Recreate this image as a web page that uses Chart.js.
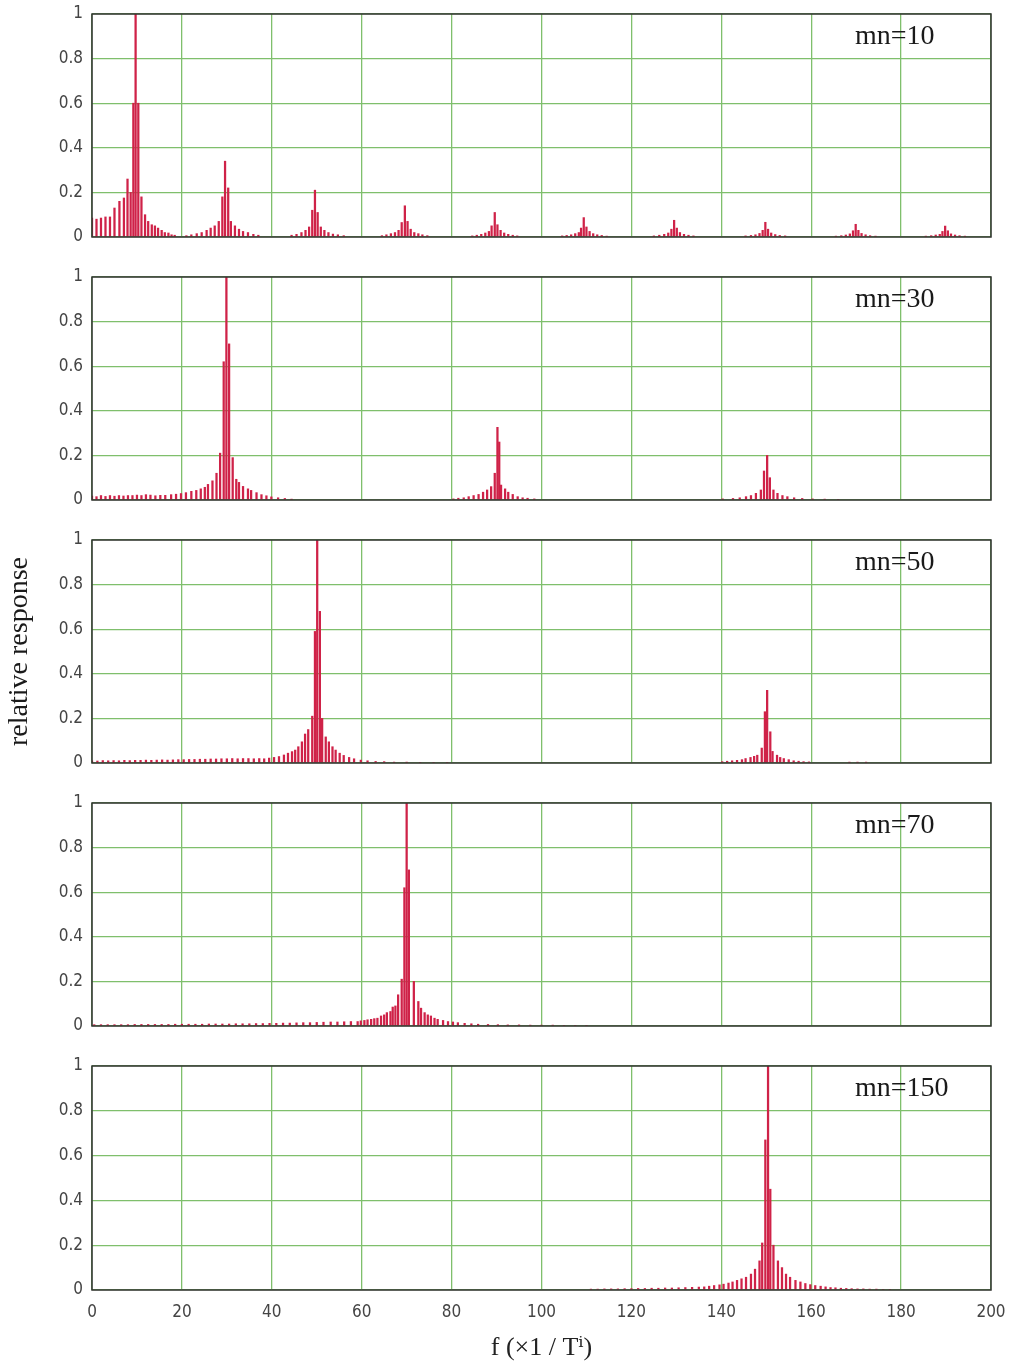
<!DOCTYPE html>
<html>
<head>
<meta charset="utf-8">
<title>relative response</title>
<script src="https://cdn.jsdelivr.net/npm/chart.js@4.4.1/dist/chart.umd.min.js"></script>
<style>
  html, body { margin: 0; padding: 0; background: #fff; }
  #wrap { position: relative; width: 1012px; height: 1365px; }
  #wrap canvas { position: absolute; left: 0; }
</style>
</head>
<body>
<div id="wrap">
  <canvas id="p0" width="1012" height="263" style="top:0px"></canvas>
  <canvas id="p1" width="1012" height="263" style="top:263px"></canvas>
  <canvas id="p2" width="1012" height="263" style="top:526px"></canvas>
  <canvas id="p3" width="1012" height="263" style="top:789px"></canvas>
  <canvas id="p4" width="1012" height="313" style="top:1052px"></canvas>
</div>
<script>
const freqTicks = [0, 20, 40, 60, 80, 100, 120, 140, 160, 180, 200];
const respTicks = [0, 0.2, 0.4, 0.6, 0.8, 1];
const panelLabels = ["mn=10", "mn=30", "mn=50", "mn=70", "mn=150"];

// spectral lines as [frequency, relative response]
const mn10Spikes = [
  [0, 0.085], [1, 0.08], [2, 0.085], [3, 0.09], [4, 0.09], [5, 0.13], [6.1, 0.16], [7.1, 0.175],
  [7.9, 0.26], [8.6, 0.2], [9.2, 0.6], [9.7, 1.0], [10.3, 0.6], [11.0, 0.18], [11.8, 0.1],
  [12.5, 0.07], [13.3, 0.055], [14.0, 0.05], [14.7, 0.04], [15.5, 0.03], [16.2, 0.02],
  [17.0, 0.018], [17.7, 0.01], [18.4, 0.008],
  [21.0, 0.006], [22.1, 0.01], [23.3, 0.015], [24.4, 0.02], [25.5, 0.03], [26.4, 0.04],
  [27.3, 0.05], [28.2, 0.07], [29.0, 0.18], [29.6, 0.34], [30.3, 0.22], [30.9, 0.07],
  [31.8, 0.05], [32.7, 0.035], [33.6, 0.025], [34.7, 0.02], [35.9, 0.012], [37.0, 0.008],
  [44.4, 0.008], [45.5, 0.012], [46.6, 0.02], [47.5, 0.03], [48.3, 0.045], [49.0, 0.12],
  [49.6, 0.21], [50.2, 0.11], [50.9, 0.045], [51.7, 0.03], [52.6, 0.02], [53.6, 0.013],
  [54.7, 0.01], [56.0, 0.006],
  [64.5, 0.006], [65.5, 0.01], [66.5, 0.015], [67.4, 0.02], [68.2, 0.03], [68.9, 0.065],
  [69.6, 0.14], [70.2, 0.07], [70.9, 0.035], [71.7, 0.02], [72.6, 0.015], [73.5, 0.01], [74.6, 0.006],
  [84.6, 0.005], [85.6, 0.008], [86.6, 0.012], [87.5, 0.018], [88.3, 0.025], [88.9, 0.05],
  [89.6, 0.11], [90.2, 0.055], [90.9, 0.03], [91.7, 0.018], [92.6, 0.012], [93.6, 0.008], [94.6, 0.005],
  [104.6, 0.005], [105.6, 0.007], [106.6, 0.01], [107.5, 0.015], [108.3, 0.02], [108.8, 0.04],
  [109.4, 0.087], [110.0, 0.045], [110.7, 0.025], [111.5, 0.015], [112.4, 0.01], [113.4, 0.007], [114.5, 0.004],
  [125.0, 0.005], [126.2, 0.008], [127.3, 0.012], [128.2, 0.018], [128.9, 0.035], [129.5, 0.075],
  [130.1, 0.04], [130.8, 0.02], [131.7, 0.012], [132.7, 0.008], [133.8, 0.005],
  [145.4, 0.005], [146.6, 0.007], [147.6, 0.01], [148.5, 0.016], [149.2, 0.03], [149.8, 0.066],
  [150.4, 0.035], [151.1, 0.018], [152.0, 0.011], [153.0, 0.007], [154.2, 0.005],
  [165.5, 0.004], [166.7, 0.006], [167.7, 0.009], [168.6, 0.014], [169.3, 0.028], [169.9, 0.057],
  [170.5, 0.03], [171.2, 0.016], [172.1, 0.01], [173.1, 0.006], [174.3, 0.004],
  [185.5, 0.004], [186.7, 0.006], [187.7, 0.009], [188.6, 0.012], [189.2, 0.025], [189.8, 0.049],
  [190.4, 0.028], [191.1, 0.014], [192.0, 0.009], [193.0, 0.006], [194.2, 0.004]
];

const mn30Spikes = [
  [0, 0.018], [1, 0.015], [2, 0.02], [3, 0.016], [4, 0.02], [5, 0.017], [6, 0.02], [7, 0.018],
  [8, 0.02], [9, 0.02], [10, 0.022], [11, 0.02], [12, 0.024], [13, 0.022],
  [14.1, 0.019], [15.2, 0.021], [16.3, 0.021], [17.6, 0.024], [18.7, 0.026], [19.8, 0.029],
  [20.9, 0.033], [22.1, 0.039], [23.2, 0.043], [24.2, 0.05], [25.1, 0.057], [25.8, 0.07],
  [26.8, 0.086], [27.7, 0.12], [28.5, 0.21], [29.3, 0.62], [29.9, 1.0], [30.5, 0.7],
  [31.3, 0.19], [32.1, 0.093], [32.7, 0.079], [33.6, 0.061], [34.7, 0.05], [35.4, 0.043],
  [36.6, 0.033], [37.7, 0.024], [38.8, 0.019], [39.9, 0.014], [41.4, 0.01], [42.9, 0.007], [44.4, 0.004],
  [80.4, 0.005], [81.5, 0.008], [82.7, 0.01], [83.8, 0.015], [84.9, 0.02], [86.0, 0.025],
  [87.0, 0.035], [87.9, 0.045], [88.8, 0.06], [89.6, 0.12], [90.2, 0.326], [90.6, 0.26],
  [91.0, 0.067], [91.9, 0.05], [92.6, 0.035], [93.6, 0.025], [94.7, 0.015], [95.8, 0.01],
  [96.9, 0.008], [98.4, 0.005],
  [140.3, 0.005], [142.6, 0.007], [144.1, 0.01], [145.5, 0.015], [146.6, 0.02], [147.7, 0.03],
  [148.8, 0.045], [149.5, 0.13], [150.2, 0.2], [150.8, 0.1], [151.6, 0.045], [152.5, 0.03],
  [153.6, 0.02], [154.7, 0.015], [156.2, 0.01], [158.0, 0.007], [160.3, 0.005], [163.0, 0.004], [166.0, 0.003]
];

const mn50Spikes = [
  [0, 0.01], [1.2, 0.009], [2.4, 0.011], [3.6, 0.01], [4.8, 0.011], [6, 0.01], [7.2, 0.012],
  [8.4, 0.011], [9.6, 0.012], [10.8, 0.012], [12, 0.013], [13.2, 0.012], [14.4, 0.013],
  [15.6, 0.014], [16.8, 0.013], [18, 0.014], [19.2, 0.015], [20.4, 0.015], [21.6, 0.016],
  [22.8, 0.016], [24, 0.017], [25.2, 0.017], [26.4, 0.018], [27.6, 0.018], [28.8, 0.019],
  [30, 0.019], [31.2, 0.02], [32.4, 0.019], [33.6, 0.02], [34.8, 0.02], [36, 0.019], [37.2, 0.02],
  [38.3, 0.019], [39.4, 0.022], [40.5, 0.025], [41.6, 0.029], [42.7, 0.036], [43.6, 0.044],
  [44.5, 0.051], [45.2, 0.058], [45.9, 0.073], [46.7, 0.095], [47.4, 0.13], [48.1, 0.15],
  [49.0, 0.21], [49.6, 0.59], [50.1, 1.0], [50.7, 0.68], [51.2, 0.2], [52.0, 0.117],
  [52.7, 0.095], [53.5, 0.073], [54.2, 0.058], [55.1, 0.044], [56.0, 0.034], [57.2, 0.025],
  [58.3, 0.019], [59.8, 0.013], [61.3, 0.01], [63.1, 0.007], [65.0, 0.006], [67.2, 0.004],
  [70, 0.004], [73, 0.003], [76, 0.003], [79, 0.003],
  [140.2, 0.006], [141.3, 0.008], [142.4, 0.01], [143.5, 0.012], [144.6, 0.015], [145.4, 0.02],
  [146.5, 0.025], [147.3, 0.03], [148.0, 0.035], [149.0, 0.067], [149.7, 0.23], [150.2, 0.326],
  [150.9, 0.14], [151.4, 0.052], [152.4, 0.035], [153.1, 0.025], [153.9, 0.02], [155.0, 0.015],
  [156.1, 0.01], [157.2, 0.008], [158.3, 0.006], [159.5, 0.005], [168.5, 0.004], [170.3, 0.004], [172.2, 0.004]
];

const mn70Spikes = [
  [0.5, 0.006], [2, 0.006], [3.5, 0.006], [5, 0.006], [6.5, 0.006], [8, 0.006], [9.5, 0.007],
  [11, 0.007], [12.5, 0.007], [14, 0.007], [15.5, 0.007], [17, 0.007], [18.5, 0.008], [20, 0.008],
  [21.5, 0.008], [23, 0.008], [24.5, 0.008], [26, 0.009], [27.5, 0.009], [29, 0.009], [30.5, 0.009],
  [32, 0.01], [33.5, 0.01], [35, 0.01], [36.5, 0.011], [38, 0.011], [39.5, 0.012], [41, 0.012],
  [42.5, 0.013], [44, 0.013], [45.5, 0.014], [47, 0.015], [48.5, 0.015], [50, 0.016], [51.5, 0.017],
  [53.1, 0.018], [54.6, 0.018], [56.1, 0.019], [57.6, 0.02], [59.1, 0.02], [59.8, 0.023],
  [60.6, 0.025], [61.3, 0.028], [62.1, 0.03], [62.8, 0.033], [63.5, 0.035], [64.3, 0.045],
  [65.0, 0.05], [65.6, 0.06], [66.4, 0.065], [66.9, 0.085], [67.5, 0.09], [68.1, 0.14],
  [68.9, 0.21], [69.5, 0.62], [70.0, 1.0], [70.5, 0.7], [71.6, 0.2], [72.6, 0.11], [73.2, 0.08],
  [74.0, 0.06], [74.7, 0.05], [75.4, 0.045], [76.2, 0.035], [76.9, 0.03], [78.1, 0.025],
  [79.2, 0.02], [80.3, 0.018], [81.4, 0.015], [82.9, 0.012], [84.4, 0.01], [85.9, 0.008],
  [88.1, 0.007], [90.3, 0.006], [92.5, 0.005], [95, 0.005], [97.5, 0.004], [100, 0.004],
  [102.5, 0.004], [105, 0.003], [107.5, 0.003], [110, 0.003]
];

const mn150Spikes = [
  [111, 0.004], [112.5, 0.004], [114, 0.005], [115.5, 0.005], [117, 0.005], [118.5, 0.006],
  [120, 0.006], [121.5, 0.007], [123, 0.007], [124.5, 0.008], [126, 0.008], [127.5, 0.009],
  [129, 0.009], [130.5, 0.01], [132, 0.011], [133.5, 0.012], [135, 0.013], [136.2, 0.014],
  [137.3, 0.017], [138.4, 0.02], [139.6, 0.023], [140.5, 0.026], [141.6, 0.031], [142.5, 0.036],
  [143.5, 0.043], [144.5, 0.05], [145.5, 0.057], [146.6, 0.071], [147.5, 0.093], [148.5, 0.13],
  [149.1, 0.21], [149.8, 0.67], [150.4, 1.0], [150.9, 0.45], [151.6, 0.2], [152.6, 0.13],
  [153.5, 0.1], [154.4, 0.071], [155.3, 0.057], [156.5, 0.043], [157.6, 0.036], [158.7, 0.029],
  [159.8, 0.024], [160.9, 0.02], [162.1, 0.017], [163.2, 0.014], [164.3, 0.011], [165.4, 0.01],
  [166.6, 0.008], [167.8, 0.007], [169, 0.006], [170.3, 0.005], [171.6, 0.005], [173, 0.004],
  [174.5, 0.004], [176, 0.003], [177.5, 0.003]
];

const panelSpikes = [mn10Spikes, mn30Spikes, mn50Spikes, mn70Spikes, mn150Spikes];

const gridGreen = "#7fbf6c";
const tickFont = { family: '"Liberation Sans Narrow", "DejaVu Sans Condensed", sans-serif', size: 17 };
const serif = '"Liberation Serif", "DejaVu Serif", serif';

// box around the plot area plus the mn= tag in the upper right
const panelFrame = {
  id: "panelFrame",
  afterDatasetsDraw(chart, args, opts) {
    const { ctx, chartArea: a } = chart;
    ctx.save();
    ctx.strokeStyle = "#333";
    ctx.lineWidth = 1.5;
    ctx.strokeRect(a.left, a.top, a.right - a.left, a.bottom - a.top);
    ctx.fillStyle = "#1a1a1a";
    ctx.font = "28px " + serif;
    ctx.textBaseline = "middle";
    ctx.textAlign = "left";
    ctx.fillText(opts.label, 855, a.top + 23);
    ctx.restore();
  }
};

panelSpikes.forEach(function (spikes, i) {
  const last = i === panelSpikes.length - 1;
  new Chart(document.getElementById("p" + i), {
    type: "bar",
    data: {
      datasets: [{
        data: spikes.map(([x, y]) => ({ x, y })),
        backgroundColor: "#cf2248",
        borderWidth: 0,
        barThickness: 1.6,
        grouped: false
      }]
    },
    plugins: [panelFrame],
    options: {
      responsive: false,
      animation: false,
      events: [],
      layout: { padding: { top: 14, right: 21, left: 0, bottom: 0 } },
      plugins: {
        legend: { display: false },
        tooltip: { enabled: false },
        panelFrame: { label: panelLabels[i] }
      },
      scales: {
        x: {
          type: "linear",
          min: 0,
          max: 200,
          offset: false,
          afterBuildTicks: (s) => { s.ticks = freqTicks.map((v) => ({ value: v })); },
          afterFit: (s) => {
            s.height = last ? 75 : 26;
            s.paddingLeft = 0;
            s.paddingRight = 0;
          },
          grid: { color: gridGreen, lineWidth: 1.3, drawTicks: false, offset: false },
          border: { display: false },
          ticks: { display: last, autoSkip: false, maxRotation: 0, padding: 12, color: "#444", font: tickFont },
          title: {
            display: last,
            text: "f (×1 / Tⁱ)",
            color: "#222",
            font: { family: serif, size: 26 },
            padding: { top: 0, bottom: 1 }
          }
        },
        y: {
          min: 0,
          max: 1,
          afterBuildTicks: (s) => { s.ticks = respTicks.map((v) => ({ value: v })); },
          afterFit: (s) => {
            s.width = 92;
            s.paddingTop = 0;
            s.paddingBottom = 0;
          },
          grid: { color: gridGreen, lineWidth: 1.3, drawTicks: false },
          border: { display: false },
          ticks: { padding: 9, color: "#444", font: tickFont, callback: (v) => String(v) },
          title: {
            display: i === 2,
            text: "relative response",
            color: "#1a1a1a",
            font: { family: serif, size: 28 },
            padding: { top: 3, bottom: 0 }
          }
        }
      }
    }
  });
});
</script>
</body>
</html>
